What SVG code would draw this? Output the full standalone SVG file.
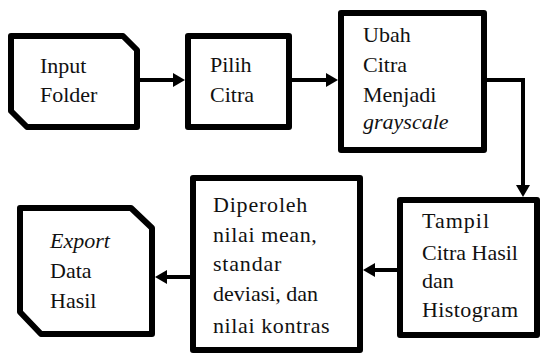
<svg xmlns="http://www.w3.org/2000/svg" width="542" height="356" viewBox="0 0 542 356">
  <defs>
    <marker id="arrow" markerUnits="userSpaceOnUse" markerWidth="12" markerHeight="14" refX="2" refY="7" orient="auto">
      <path d="M0,0 L12,7 L0,14 z" fill="#000000"/>
    </marker>
  </defs>
  <rect x="0" y="0" width="542" height="356" fill="#ffffff"/>

  <g id="connectors" fill="none" stroke="#000000" stroke-width="4">
    <line x1="140" y1="80" x2="175" y2="80" marker-end="url(#arrow)"/>
    <line x1="292" y1="80" x2="328" y2="80" marker-end="url(#arrow)"/>
    <path d="M487,80 H523 V187" marker-end="url(#arrow)"/>
    <line x1="397" y1="270" x2="373" y2="270" marker-end="url(#arrow)"/>
    <line x1="190" y1="277" x2="165" y2="277" marker-end="url(#arrow)"/>
  </g>

  <g id="input-folder">
    <polygon points="11,36 123,36 137,50 137,127 27,127 11,111" fill="#ffffff" stroke="#000000" stroke-width="6" stroke-linejoin="round"/>
    <text font-family="Liberation Serif" font-size="22" fill="#111111" x="40" y="73">Input</text>
    <text font-family="Liberation Serif" font-size="22" fill="#111111" x="40" y="102">Folder</text>
  </g>

  <g id="pilih-citra">
    <rect x="188" y="36" width="101" height="91" fill="#ffffff" stroke="#000000" stroke-width="6" stroke-linejoin="round"/>
    <text font-family="Liberation Serif" font-size="22" fill="#111111" x="210" y="72">Pilih</text>
    <text font-family="Liberation Serif" font-size="22" fill="#111111" x="210" y="102">Citra</text>
  </g>

  <g id="ubah-citra">
    <rect x="341" y="13" width="143" height="137" fill="#ffffff" stroke="#000000" stroke-width="6" stroke-linejoin="round"/>
    <text font-family="Liberation Serif" font-size="22" fill="#111111" x="363" y="42">Ubah</text>
    <text font-family="Liberation Serif" font-size="22" fill="#111111" x="363" y="72">Citra</text>
    <text font-family="Liberation Serif" font-size="22" fill="#111111" x="363" y="102">Menjadi</text>
    <text font-family="Liberation Serif" font-size="22" fill="#111111" font-style="italic" x="363" y="129">grayscale</text>
  </g>

  <g id="tampil-citra">
    <rect x="400" y="200" width="137" height="135" fill="#ffffff" stroke="#000000" stroke-width="6" stroke-linejoin="round"/>
    <text font-family="Liberation Serif" font-size="22" fill="#111111" x="422" y="228" letter-spacing="1">Tampil</text>
    <text font-family="Liberation Serif" font-size="22" fill="#111111" x="422" y="260">Citra Hasil</text>
    <text font-family="Liberation Serif" font-size="22" fill="#111111" x="422" y="288">dan</text>
    <text font-family="Liberation Serif" font-size="22" fill="#111111" x="422" y="317" letter-spacing="0.4">Histogram</text>
  </g>

  <g id="diperoleh-nilai">
    <rect x="193" y="178" width="167" height="172" fill="#ffffff" stroke="#000000" stroke-width="6" stroke-linejoin="round"/>
    <text font-family="Liberation Serif" font-size="22" fill="#111111" x="213" y="212" letter-spacing="0.8">Diperoleh</text>
    <text font-family="Liberation Serif" font-size="22" fill="#111111" x="213" y="242" letter-spacing="0.6">nilai mean,</text>
    <text font-family="Liberation Serif" font-size="22" fill="#111111" x="213" y="271" letter-spacing="0.8">standar</text>
    <text font-family="Liberation Serif" font-size="22" fill="#111111" x="213" y="301">deviasi, dan</text>
    <text font-family="Liberation Serif" font-size="22" fill="#111111" x="213" y="333" letter-spacing="0.6">nilai kontras</text>
  </g>

  <g id="export-data">
    <polygon points="20,208 131,208 152,228 152,334 41,334 20,312" fill="#ffffff" stroke="#000000" stroke-width="6" stroke-linejoin="round"/>
    <text font-family="Liberation Serif" font-size="22" fill="#111111" font-style="italic" x="50" y="248">Export</text>
    <text font-family="Liberation Serif" font-size="22" fill="#111111" x="50" y="278">Data</text>
    <text font-family="Liberation Serif" font-size="22" fill="#111111" x="50" y="308">Hasil</text>
  </g>
</svg>
